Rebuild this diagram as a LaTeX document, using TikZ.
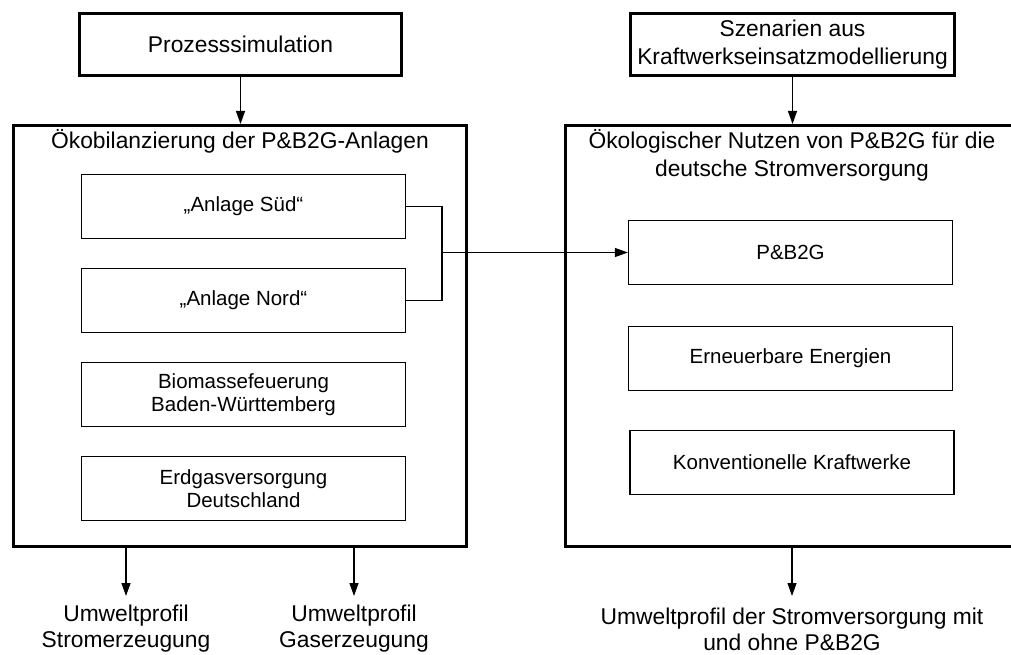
\documentclass[tikz,border=0pt]{standalone}
\usepackage{fontspec}
\setmainfont{Liberation Sans}
\usetikzlibrary{arrows.meta}
\begin{document}
\begin{tikzpicture}[x=1pt,y=-1pt,
  bigbox/.style={draw, line width=3pt, minimum width=453pt, minimum height=421pt, inner sep=0pt},
  srcbox/.style={draw, line width=3pt, minimum width=322pt, minimum height=62pt, align=center,
    inner sep=0pt, font=\fontsize{22.8}{28}\selectfont},
  itembox/.style={draw, line width=1.3pt, minimum width=324pt, minimum height=64pt, align=center,
    inner sep=0pt, font=\fontsize{20.5}{23}\selectfont},
  heading/.style={align=center, inner sep=0pt, font=\fontsize{22.8}{28}\selectfont},
  result/.style={align=center, inner sep=0pt, font=\fontsize{22.8}{26}\selectfont},
  conn/.style={line width=1.3pt},
  arr/.style={conn, -{Triangle[length=13pt,width=9pt]}}]
  \useasboundingbox (0,0) rectangle (1011,655);
  \clip (0,0) rectangle (1011,655);

  % sources
  \node[srcbox] (proc) at (240.5,44.5) {Prozesssimulation};
  \node[srcbox, minimum width=324pt] (scen) at (792.5,44.5) {Szenarien aus\\Kraftwerkseinsatzmodellierung};

  % left frame: life cycle assessment
  \node[bigbox] (left) at (240,336) {};
  \node[heading] (lhead) at (240,141) {Ökobilanzierung der P\&B2G-Anlagen};
  \node[itembox] (sued) at (243.5,206.5) {„Anlage Süd“};
  \node[itembox] (nord) at (243.5,300.5) {„Anlage Nord“};
  \node[itembox] (bio) at (243.5,394.5) {Biomassefeuerung\\Baden-Württemberg};
  \node[itembox] (gas) at (243.5,488.5) {Erdgasversorgung\\Deutschland};

  % right frame: ecological benefit
  \node[bigbox] (right) at (792,336) {};
  \node[heading] (rhead) at (792,155) {Ökologischer Nutzen von P\&B2G für die\\deutsche Stromversorgung};
  \node[itembox] (pbg) at (790.5,252.5) {P\&B2G};
  \node[itembox] (ee) at (790.5,358.5) {Erneuerbare Energien};
  \node[itembox] (kon) at (792,462.5) {Konventionelle Kraftwerke};

  % results
  \node[result] (res1) at (126,629) {Umweltprofil\\Stromerzeugung};
  \node[result] (res2) at (354,629) {Umweltprofil\\Gaserzeugung};
  \node[result] (res3) at (792,629) {Umweltprofil der Stromversorgung mit\\und ohne P\&B2G};

  % connectors
  \draw[arr] (proc.south) -- (proc.south |- left.north);
  \draw[arr] (scen.south) -- (scen.south |- right.north);

  \coordinate (join) at (442,252.5);
  \draw[conn] (sued.east) -| (join) |- (nord.east);
  \draw[arr] (join) -- (pbg.west);

  \coordinate (t1) at (126,596);
  \coordinate (t2) at (354,596);
  \coordinate (t3) at (792,596);
  \draw[arr] (t1 |- left.south) -- (t1);
  \draw[arr] (t2 |- left.south) -- (t2);
  \draw[arr] (t3 |- right.south) -- (t3);
\end{tikzpicture}
\end{document}
